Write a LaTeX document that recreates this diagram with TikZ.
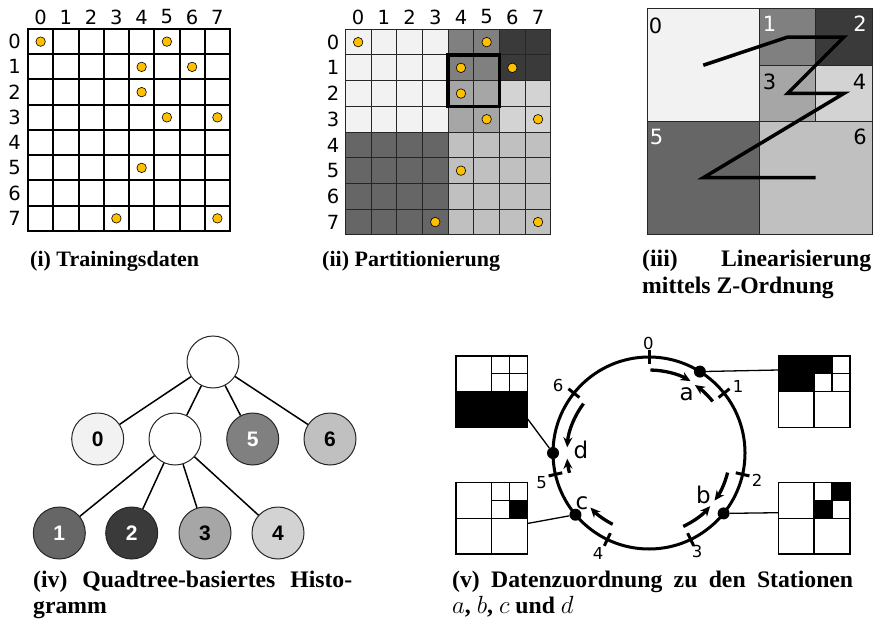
\documentclass[tikz,border=0pt]{standalone}
\usepackage{fontspec}
\setmainfont{Liberation Serif}
\newfontfamily\djv{DejaVu Sans}
\newfontfamily\lsans{Liberation Sans}
\usetikzlibrary{arrows.meta}
\definecolor{dotc}{HTML}{FFC000}
\definecolor{qz}{HTML}{F2F2F2}
\definecolor{qo}{HTML}{808080}
\definecolor{qt}{HTML}{3A3A3A}
\definecolor{qth}{HTML}{A6A6A6}
\definecolor{qf}{HTML}{D3D3D3}
\definecolor{qfi}{HTML}{666666}
\definecolor{qs}{HTML}{C0C0C0}
\newcommand{\qsquare}[3]{%
  \begin{scope}[shift={(#1,#2)}]
    #3
    \draw[sq] (0,0) rectangle (71.6,71.6);
    \draw[sq] (35.8,0) -- (35.8,71.6);
    \draw[sq] (0,35.8) -- (71.6,35.8);
    \draw[sq] (53.7,0) -- (53.7,35.8);
    \draw[sq] (35.8,17.9) -- (71.6,17.9);
  \end{scope}}
\begin{document}
\begin{tikzpicture}[x=1pt,y=-1pt,
  gl/.style={font=\djv\fontsize{19.5}{22}\selectfont, inner sep=0pt},
  zl/.style={font=\djv\fontsize{21}{24}\selectfont, inner sep=0pt},
  rl/.style={font=\djv\fontsize{16.5}{19}\selectfont, inner sep=0pt},
  sl/.style={font=\djv\fontsize{23}{26}\selectfont, inner sep=0pt},
  captxt/.style={font=\fontsize{22}{26}\selectfont\bfseries, inner sep=0pt, anchor=base west},
  capbig/.style={captxt, font=\fontsize{23.7}{28}\selectfont\bfseries},
  dotn/.style={circle, fill=dotc, draw=black, line width=0.6pt, minimum size=9.5pt, inner sep=0pt},
  tn/.style={circle, draw=black!85, line width=1pt, minimum size=52pt, inner sep=0pt,
             font=\lsans\bfseries\fontsize{21}{24}\selectfont},
  tedge/.style={line width=1.5pt},
  sq/.style={line width=1.6pt, line cap=rect},
  arr/.style={line width=3.3pt, -{Stealth[length=10pt,width=9pt]}},
  sdot/.style={circle, fill=black, minimum size=12pt, inner sep=0pt},
  conn/.style={line width=1.3pt}]
\useasboundingbox (0,0) rectangle (874,628);

% ---------- (i) ----------
\foreach \k in {0,...,8} {
  \draw[line width=2pt, line cap=rect] ({28+\k*25.25},29) -- ({28+\k*25.25},231);
  \draw[line width=2pt, line cap=rect] (28,{29+\k*25.25}) -- (230,{29+\k*25.25});
}
\foreach \k in {0,...,7} {
  \node[gl] (ic\k) at ({28+(\k+0.5)*25.25},17) {\k};
  \node[gl] (ir\k) at (14.5,{29+(\k+0.5)*25.25}) {\k};
}
\foreach \cx/\cy [count=\n] in {0/0,5/0,4/1,6/1,4/2,5/3,7/3,4/5,3/7,7/7}
  \node[dotn] (id\n) at ({28+(\cx+0.5)*25.25},{29+(\cy+0.5)*25.25}) {};
\node[captxt] (capi) at (30,266) {(i) Trainingsdaten};

% ---------- (ii) ----------
\def\bx{345.3}\def\by{29.3}\def\bc{25.7}
\fill[qz]  (\bx,\by) rectangle ({\bx+4*\bc},{\by+4*\bc});
\fill[qo]  ({\bx+4*\bc},\by) rectangle ({\bx+6*\bc},{\by+2*\bc});
\fill[qt]  ({\bx+6*\bc},\by) rectangle ({\bx+8*\bc},{\by+2*\bc});
\fill[qth] ({\bx+4*\bc},{\by+2*\bc}) rectangle ({\bx+6*\bc},{\by+4*\bc});
\fill[qf]  ({\bx+6*\bc},{\by+2*\bc}) rectangle ({\bx+8*\bc},{\by+4*\bc});
\fill[qfi] (\bx,{\by+4*\bc}) rectangle ({\bx+4*\bc},{\by+8*\bc});
\fill[qs]  ({\bx+4*\bc},{\by+4*\bc}) rectangle ({\bx+8*\bc},{\by+8*\bc});
\foreach \k in {0,...,8} {
  \draw[line width=1pt, black!85, line cap=rect] ({\bx+\k*\bc},\by) -- ({\bx+\k*\bc},{\by+8*\bc});
  \draw[line width=1pt, black!85, line cap=rect] (\bx,{\by+\k*\bc}) -- ({\bx+8*\bc},{\by+\k*\bc});
}
\draw[line width=3.5pt] ({\bx+4*\bc},{\by+\bc}) rectangle ({\bx+6*\bc},{\by+3*\bc});
\foreach \k in {0,...,7} {
  \node[gl] (jc\k) at ({\bx+(\k+0.5)*\bc},17) {\k};
  \node[gl] (jr\k) at (333,{\by+(\k+0.5)*\bc}) {\k};
}
\foreach \cx/\cy [count=\n] in {0/0,5/0,4/1,6/1,4/2,5/3,7/3,4/5,3/7,7/7}
  \node[dotn] (jd\n) at ({\bx+(\cx+0.5)*\bc},{\by+(\cy+0.5)*\bc}) {};
\node[captxt] (capii) at (322,266) {(ii) Partitionierung};

% ---------- (iii) ----------
\begin{scope}[line width=1pt, black!85]
\filldraw[fill=qz]  (647,9) rectangle (759.5,121.5);
\filldraw[fill=qo]  (759.5,9) rectangle (815.75,65.25);
\filldraw[fill=qt]  (815.75,9) rectangle (872,65.25);
\filldraw[fill=qth] (759.5,65.25) rectangle (815.75,121.5);
\filldraw[fill=qf]  (815.75,65.25) rectangle (872,121.5);
\filldraw[fill=qfi] (647,121.5) rectangle (759.5,234);
\filldraw[fill=qs]  (759.5,121.5) rectangle (872,234);
\end{scope}
\draw[line width=3.5pt, line join=miter] (703.25,65.25) -- (787.6,37.1) -- (843.9,37.1)
  -- (787.6,93.4) -- (843.9,93.4) -- (703.25,177.75) -- (815.6,177.75);
\node[zl] (z0) at (655.5,26) {0};
\node[zl, white] (z1) at (769.5,24) {1};
\node[zl, white] (z2) at (860,24) {2};
\node[zl] (z3) at (769.5,81.5) {3};
\node[zl] (z4) at (859.5,81.5) {4};
\node[zl, white] (z5) at (656.5,137) {5};
\node[zl] (z6) at (860,137) {6};
\node[capbig] (capiii) at (642,266) {\makebox[229pt][s]{(iii) Linearisierung}};
\node[capbig] (capiiib) at (642,293) {mittels Z-Ordnung};

% ---------- (iv) ----------
\node[tn, fill=white] (t)  at (213,362) {};
\node[tn, fill=qz]    (t0) at (97.7,439) {0};
\node[tn, fill=white] (tx) at (175,439) {};
\node[tn, fill=qo, text=white] (t5) at (252.7,439) {5};
\node[tn, fill=qs]    (t6) at (330,439) {6};
\node[tn, fill=qfi, text=white] (t1) at (59.3,533) {1};
\node[tn, fill=qt, text=white]  (t2) at (131.7,533) {2};
\node[tn, fill=qth]   (t3) at (205,533) {3};
\node[tn, fill=qf]    (t4) at (278,533) {4};
\foreach \c in {t0,tx,t5,t6} \draw[tedge] (t) -- (\c);
\foreach \c in {t1,t2,t3,t4} \draw[tedge] (tx) -- (\c);
\node[capbig] (capiv) at (33,587) {\makebox[319pt][s]{(iv) Quadtree-basiertes Histo-}};
\node[capbig] (capivb) at (33,613) {gramm};

% ---------- (v) ----------
\begin{scope}[shift={(649,453)}, y=1pt]
  \draw[line width=3pt] (0,0) circle[radius=96];
  \foreach \i in {0,...,6} {
    \pgfmathsetmacro\ang{90-\i*360/7}
    \draw[line width=3pt] (\ang:89) -- (\ang:103);
  }
  \node[rl] (k0) at (-0.7,110) {0};
  \node[rl] (k1) at (89,66.5) {1};
  \node[rl] (k2) at (108,-27) {2};
  \node[rl] (k3) at (48,-98.5) {3};
  \node[rl] (k4) at (-51,-100.5) {4};
  \node[rl] (k5) at (-107.5,-30) {5};
  \node[rl] (k6) at (-91,68) {6};
  \draw[arr] (89:83) arc[start angle=89, end angle=60, radius=83];
  \draw[arr] (39:82) arc[start angle=39, end angle=56, radius=82];
  \draw[arr] (-14:81) arc[start angle=-14, end angle=-36, radius=81];
  \draw[arr] (-65:81) arc[start angle=-65, end angle=-41, radius=81];
  \draw[arr] (243:80) arc[start angle=243, end angle=223, radius=80];
  \draw[arr] (143:82) arc[start angle=143, end angle=176, radius=82];
  \draw[arr] (194:82) arc[start angle=194, end angle=184, radius=82];
  \node[sdot] (sa) at (58:96) {};
  \node[sdot] (sb) at (-39:96) {};
  \node[sdot] (sc) at (220:96) {};
  \node[sdot] (sd) at (180:96) {};
  \node[sl] (la) at (37.7,58.5) {a};
  \node[sl] (lb) at (54.3,-41.5) {b};
  \node[sl] (lc) at (-67,-50) {c};
  \node[sl] (ld) at (-68,3) {d};
\end{scope}
\qsquare{455.7}{355.7}{\fill (0,35.8) rectangle (71.6,71.6);}
\qsquare{455.7}{482.5}{\fill (53.7,17.9) rectangle (71.6,35.8);}
\qsquare{778.3}{355.7}{\fill (0,0) rectangle (35.8,35.8); \fill (35.8,0) rectangle (53.7,17.9);}
\qsquare{778.3}{482.5}{\fill (53.7,0) rectangle (71.6,17.9); \fill (35.8,17.9) rectangle (53.7,35.8);}
\coordinate (ca) at (778.3,370);
\coordinate (cb) at (778.3,512.7);
\coordinate (cc) at (527.3,523.5);
\coordinate (cd) at (527.3,418.5);
\draw[conn] (sa) -- (ca);
\draw[conn] (sb) -- (cb);
\draw[conn] (sc) -- (cc);
\draw[conn] (sd) -- (cd);
\node[capbig] (capv) at (452,587) {\makebox[401pt][s]{(v) Datenzuordnung zu den Stationen}};
\node[capbig] (capvb) at (452,613) {$a$, $b$, $c$ und $d$};
\end{tikzpicture}
\end{document}
